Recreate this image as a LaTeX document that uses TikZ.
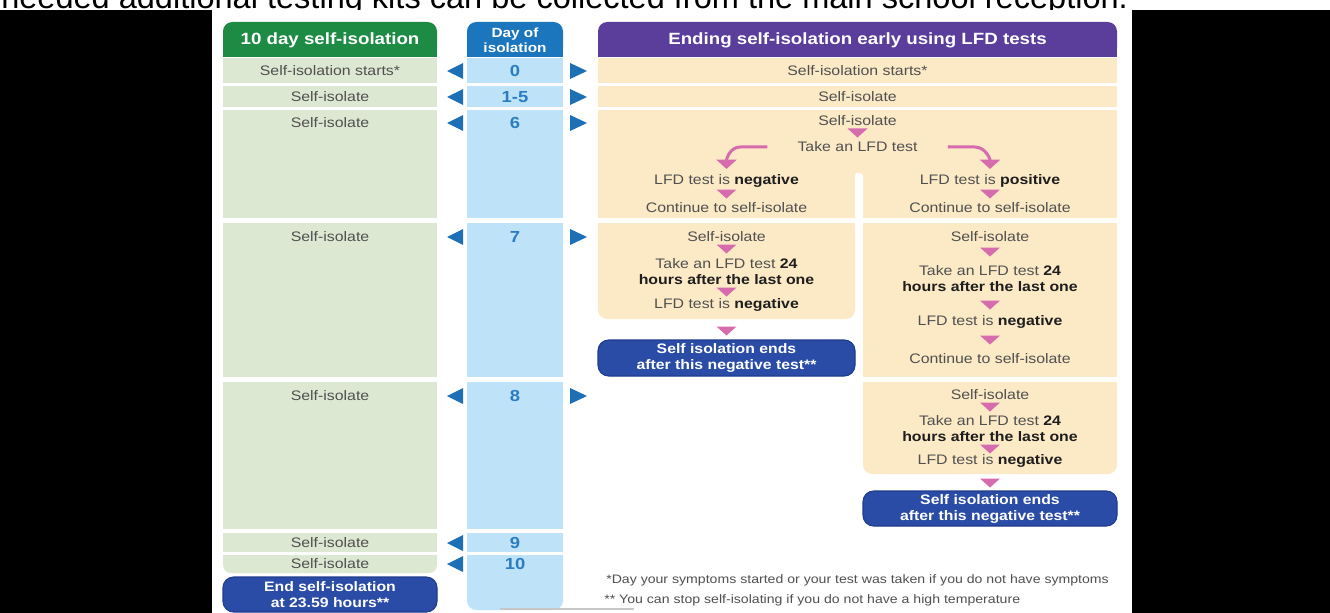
\documentclass[tikz,border=0pt]{standalone}
\usepackage{fontspec}
\setmainfont{Liberation Sans}[FakeStretch=1.15]
\newfontfamily\plainfont{Liberation Sans}
\usetikzlibrary{arrows.meta}
\definecolor{hgreen}{HTML}{1E8B45}
\definecolor{lgreen}{HTML}{DDE8D2}
\definecolor{hblue}{HTML}{1C76BD}
\definecolor{lblue}{HTML}{BEE2F7}
\definecolor{numblue}{HTML}{2B7CC0}
\definecolor{triblue}{HTML}{1D6FB6}
\definecolor{hpurple}{HTML}{5B3D9C}
\definecolor{beige}{HTML}{FCE9C6}
\definecolor{pinkc}{HTML}{D66BAD}
\definecolor{dblue}{HTML}{2A4CA6}
\definecolor{dblueedge}{HTML}{1E3C8C}
\definecolor{txtgray}{HTML}{505050}
\definecolor{txtdark}{HTML}{1E1E1E}
\newcommand{\bd}[1]{\textcolor{txtdark}{\bfseries #1}}
\newcommand{\ptri}[2]{\fill[pinkc] ({#1-10},{#2-4.5}) -- ({#1+10},{#2-4.5}) -- (#1,{#2+4.5}) -- cycle;}
\newcommand{\ltri}[1]{\fill[triblue] (463,{#1-8}) -- (463,{#1+8}) -- (447,#1) -- cycle;}
\newcommand{\rtri}[1]{\fill[triblue] (570,{#1-8}) -- (570,{#1+8}) -- (587,#1) -- cycle;}
\begin{document}
\begin{tikzpicture}[x=0.75pt,y=-0.75pt,
  lbl/.style={inner sep=0pt, text=txtgray, align=center, font=\fontsize{10.35pt}{12pt}\selectfont},
  num/.style={inner sep=0pt, text=numblue, font=\fontsize{12pt}{14pt}\selectfont\bfseries},
  head/.style={inner sep=0pt, text=white, align=center, font=\fontsize{12.2pt}{14pt}\selectfont\bfseries},
  bluebox/.style={draw=dblueedge, line width=0.8pt, fill=dblue, rounded corners=8pt, text=white, align=center, inner sep=0pt, font=\fontsize{10.3pt}{12pt}\selectfont\bfseries},
  pinkarr/.style={draw=pinkc, line width=2.25pt, -{Triangle[width=15pt,length=7pt]}},
  foot/.style={inner sep=0pt, anchor=west, text=txtgray, font=\fontsize{9.2pt}{11pt}\selectfont}
]
\useasboundingbox (0,0) rectangle (1330,613);
\clip (0,0) rectangle (1330,613);
% top cut-off line of page text
\node[anchor=base west, inner sep=0pt] (topline) at (1,8.5) {\resizebox{845pt}{!}{\plainfont needed additional testing kits can be collected from the main school reception.}};
\fill[white] (0,10.5) rectangle (1330,613);
\fill[black] (0,10.5) rectangle (212,613);
\fill[black] (1132,10.5) rectangle (1330,613);

% headers
\fill[hgreen, rounded corners=7pt] (223,22) rectangle (437,57);
\fill[hgreen] (223,40) rectangle (437,57);
\fill[hblue, rounded corners=7pt] (467,22) rectangle (563,57);
\fill[hblue] (467,40) rectangle (563,57);
\fill[hpurple, rounded corners=7pt] (598,22) rectangle (1117,57);
\fill[hpurple] (598,40) rectangle (1117,57);

% green column
\fill[lgreen] (223,58) rectangle (437,83);
\fill[lgreen] (223,86) rectangle (437,107);
\fill[lgreen] (223,110) rectangle (437,218);
\fill[lgreen] (223,223) rectangle (437,377);
\fill[lgreen] (223,382) rectangle (437,529);
\fill[lgreen] (223,533) rectangle (437,552);
\fill[lgreen, rounded corners=6pt] (223,555) rectangle (437,573);
\fill[lgreen] (223,555) rectangle (437,565);

% blue column
\fill[lblue] (467,58) rectangle (563,83);
\fill[lblue] (467,86) rectangle (563,107);
\fill[lblue] (467,110) rectangle (563,218);
\fill[lblue] (467,223) rectangle (563,377);
\fill[lblue] (467,382) rectangle (563,529);
\fill[lblue] (467,533) rectangle (563,552);
\fill[lblue, rounded corners=7pt] (467,555) rectangle (563,610);
\fill[lblue] (467,555) rectangle (563,590);

% beige area
\fill[beige] (598,58) rectangle (1117,83);
\fill[beige] (598,86) rectangle (1117,107);
\fill[beige] (598,110) rectangle (1117,218);
\fill[white, rounded corners=2pt] (855,173) rectangle (863,219);
\fill[beige, rounded corners=7pt] (598,223) rectangle (855,319);
\fill[beige] (598,223) rectangle (855,300);
\fill[beige] (863,223) rectangle (1117,377);
\fill[beige, rounded corners=7pt] (863,382) rectangle (1117,474);
\fill[beige] (863,382) rectangle (1117,450);

% header texts
\node[head] (hL) at (330,40) {10 day self-isolation};
\node[head, font=\fontsize{10pt}{11.25pt}\selectfont\bfseries] (hM) at (515,40) {Day of\\isolation};
\node[head] (hR) at (857.5,40) {Ending self-isolation early using LFD tests};

% left column texts
\node[lbl] (l0) at (330,71) {Self-isolation starts*};
\node[lbl] (l1) at (330,97) {Self-isolate};
\node[lbl] (l6) at (330,123) {Self-isolate};
\node[lbl] (l7) at (330,237) {Self-isolate};
\node[lbl] (l8) at (330,396) {Self-isolate};
\node[lbl] (l9) at (330,543) {Self-isolate};
\node[lbl] (l10) at (330,564) {Self-isolate};
\node[bluebox, minimum width=160.5pt, minimum height=26.25pt] (endA) at (330,594.5) {End self-isolation\\at 23.59 hours**};

% day numbers
\node[num] (d0) at (515,71) {0};
\node[num] (d1) at (515,97) {1-5};
\node[num] (d6) at (515,123) {6};
\node[num] (d7) at (515,237) {7};
\node[num] (d8) at (515,396) {8};
\node[num] (d9) at (515,543) {9};
\node[num] (d10) at (515,564) {10};
\ltri{71}\ltri{97}\ltri{123}\ltri{237}\ltri{396}\ltri{543}\ltri{564}
\rtri{71}\rtri{97}\rtri{123}\rtri{237}\rtri{396}

% right side
\node[lbl] (r0) at (857.5,71) {Self-isolation starts*};
\node[lbl] (r1) at (857.5,97) {Self-isolate};
\node[lbl] (r6) at (857.5,121) {Self-isolate};
\ptri{857.5}{133}
\node[lbl] (take) at (857.5,147) {Take an LFD test};
\node[lbl] (neg1) at (726.5,181) {LFD test is \bd{negative}};
\node[lbl] (pos1) at (990,181) {LFD test is \bd{positive}};
\draw[pinkarr] ([xshift=-22.5pt]take.west) -- ++(-27,0) to[out=180,in=90] ([yshift=4pt]neg1.north);
\draw[pinkarr] ([xshift=22.5pt]take.east) -- ++(27,0) to[out=0,in=90] ([yshift=4pt]pos1.north);
\ptri{726.5}{194}\ptri{990}{194}
\node[lbl] (contA) at (726.5,208) {Continue to self-isolate};
\node[lbl] (contB) at (990,208) {Continue to self-isolate};

% left branch, day 7
\node[lbl] (si7L) at (726.5,237) {Self-isolate};
\ptri{726.5}{249}
\node[lbl] (take7L) at (726.5,272) {Take an LFD test \bd{24}\\\bd{hours after the last one}};
\ptri{726.5}{292}
\node[lbl] (neg7L) at (726.5,305) {LFD test is \bd{negative}};
\ptri{726.5}{331}
\node[bluebox, minimum width=192.75pt, minimum height=27pt] (endL) at (726.5,358) {Self isolation ends\\after this negative test**};

% right branch, day 7
\node[lbl] (si7R) at (990,237) {Self-isolate};
\ptri{990}{252}
\node[lbl] (take7R) at (990,279) {Take an LFD test \bd{24}\\\bd{hours after the last one}};
\ptri{990}{305}
\node[lbl] (neg7R) at (990,322) {LFD test is \bd{negative}};
\ptri{990}{340}
\node[lbl] (cont7R) at (990,359) {Continue to self-isolate};

% right branch, day 8
\node[lbl] (si8R) at (990,395) {Self-isolate};
\ptri{990}{407}
\node[lbl] (take8R) at (990,429) {Take an LFD test \bd{24}\\\bd{hours after the last one}};
\ptri{990}{449}
\node[lbl] (neg8R) at (990,461) {LFD test is \bd{negative}};
\ptri{990}{483}
\node[bluebox, minimum width=190.5pt, minimum height=26.25pt] (endR) at (990,508.5) {Self isolation ends\\after this negative test**};

% footnotes
\node[foot] (f1) at (606,580) {*Day your symptoms started or your test was taken if you do not have symptoms};
\node[foot] (f2) at (604,600) {** You can stop self-isolating if you do not have a high temperature};

% faint bar at bottom
\fill[black!22] (500,607.5) rectangle (634,609.5);
\end{tikzpicture}
\end{document}
